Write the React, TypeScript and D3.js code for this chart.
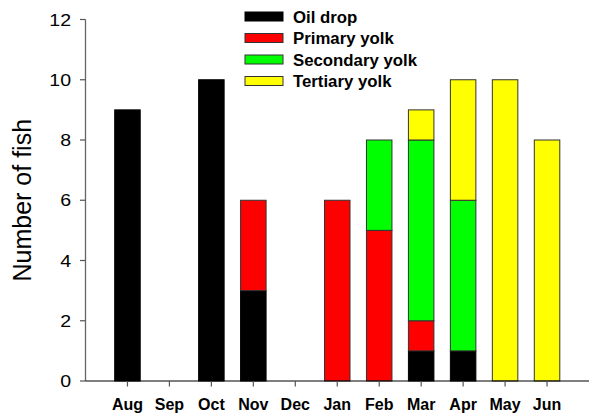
import React from "react";
import * as d3 from "d3";

const months = ["Aug", "Sep", "Oct", "Nov", "Dec", "Jan", "Feb", "Mar", "Apr", "May", "Jun"];
const seriesNames = ["Oil drop", "Primary yolk", "Secondary yolk", "Tertiary yolk"];
const oilDrop = [9, 0, 10, 3, 0, 0, 0, 1, 1, 0, 0];
const primaryYolk = [0, 0, 0, 3, 0, 6, 5, 1, 0, 0, 0];
const secondaryYolk = [0, 0, 0, 0, 0, 0, 3, 6, 5, 0, 0];
const tertiaryYolk = [0, 0, 0, 0, 0, 0, 0, 1, 4, 10, 8];
const yTicks = [0, 2, 4, 6, 8, 10, 12];
const colors = ["#000000", "#ff0000", "#00ff00", "#ffff00"];

const W = 600;
const H = 418;
const FONT = "'Liberation Sans', Arial, Helvetica, sans-serif";

export default function App() {
  const x = d3.scaleLinear().domain([0, months.length + 1]).range([85.5, 589]);
  const y = d3.scaleLinear().domain([0, 12]).range([381, 19.5]);
  const barW = 25.5;

  const rows = months.map((m, i) => ({
    month: m,
    "Oil drop": oilDrop[i],
    "Primary yolk": primaryYolk[i],
    "Secondary yolk": secondaryYolk[i],
    "Tertiary yolk": tertiaryYolk[i],
  }));
  const stacked = d3.stack<any>().keys(seriesNames)(rows);

  return (
    <svg width={W} height={H} style={{ position: "absolute", left: 0, top: 0 }} fontFamily={FONT}>
      <rect x={0} y={0} width={W} height={H} fill="#fff" />
      {stacked.map((layer, si) => (
        <g key={layer.key}>
          {layer.map((d, i) => {
            const v = d[1] - d[0];
            if (v <= 0) return null;
            const cx = x(i + 1);
            return (
              <rect
                key={i}
                x={cx - barW / 2}
                y={y(d[1])}
                width={barW}
                height={y(d[0]) - y(d[1])}
                fill={colors[si]}
                stroke={si === 0 ? "#000" : "#333"}
                strokeWidth={1}
              />
            );
          })}
        </g>
      ))}
      {/* y axis */}
      <line x1={x(0)} x2={x(0)} y1={y(12)} y2={y(0)} stroke="#666" strokeWidth={1.3} />
      {yTicks.map((t) => (
        <g key={t}>
          <line x1={x(0) - 5.5} x2={x(0)} y1={y(t)} y2={y(t)} stroke="#555" strokeWidth={1.2} />
          <text
            transform={`translate(${x(0) - 14.5},${y(t)}) scale(1.15,1)`}
            dy="0.36em"
            textAnchor="end"
            fontSize={17}
            fill="#000"
          >
            {t}
          </text>
        </g>
      ))}
      {/* x axis */}
      <line x1={x(0)} x2={x(months.length + 1)} y1={y(0)} y2={y(0)} stroke="#000" strokeWidth={1.2} />
      {months.map((m, i) => (
        <g key={m}>
          <line x1={x(i + 1)} x2={x(i + 1)} y1={y(0)} y2={y(0) + 5.5} stroke="#555" strokeWidth={1.2} />
          <text x={x(i + 1)} y={410} textAnchor="middle" fontSize={16} fontWeight="bold" fill="#000">
            {m}
          </text>
        </g>
      ))}
      {/* y label */}
      <text
        transform={`translate(31,${(y(0) + y(12)) / 2}) rotate(-90)`}
        textAnchor="middle"
        fontSize={25}
        fill="#000"
      >
        Number of fish
      </text>
      {/* legend */}
      {seriesNames.map((s, i) => {
        const cy = 16.5 + i * 21.5;
        return (
          <g key={s}>
            <rect x={245} y={cy - 4.5} width={38} height={9} fill={colors[i]} stroke={i === 0 ? "#000" : "#333"} strokeWidth={1} />
            <text x={293} y={cy} dy="0.36em" fontSize={16.8} fontWeight="bold" fill="#000">
              {s}
            </text>
          </g>
        );
      })}
    </svg>
  );
}
